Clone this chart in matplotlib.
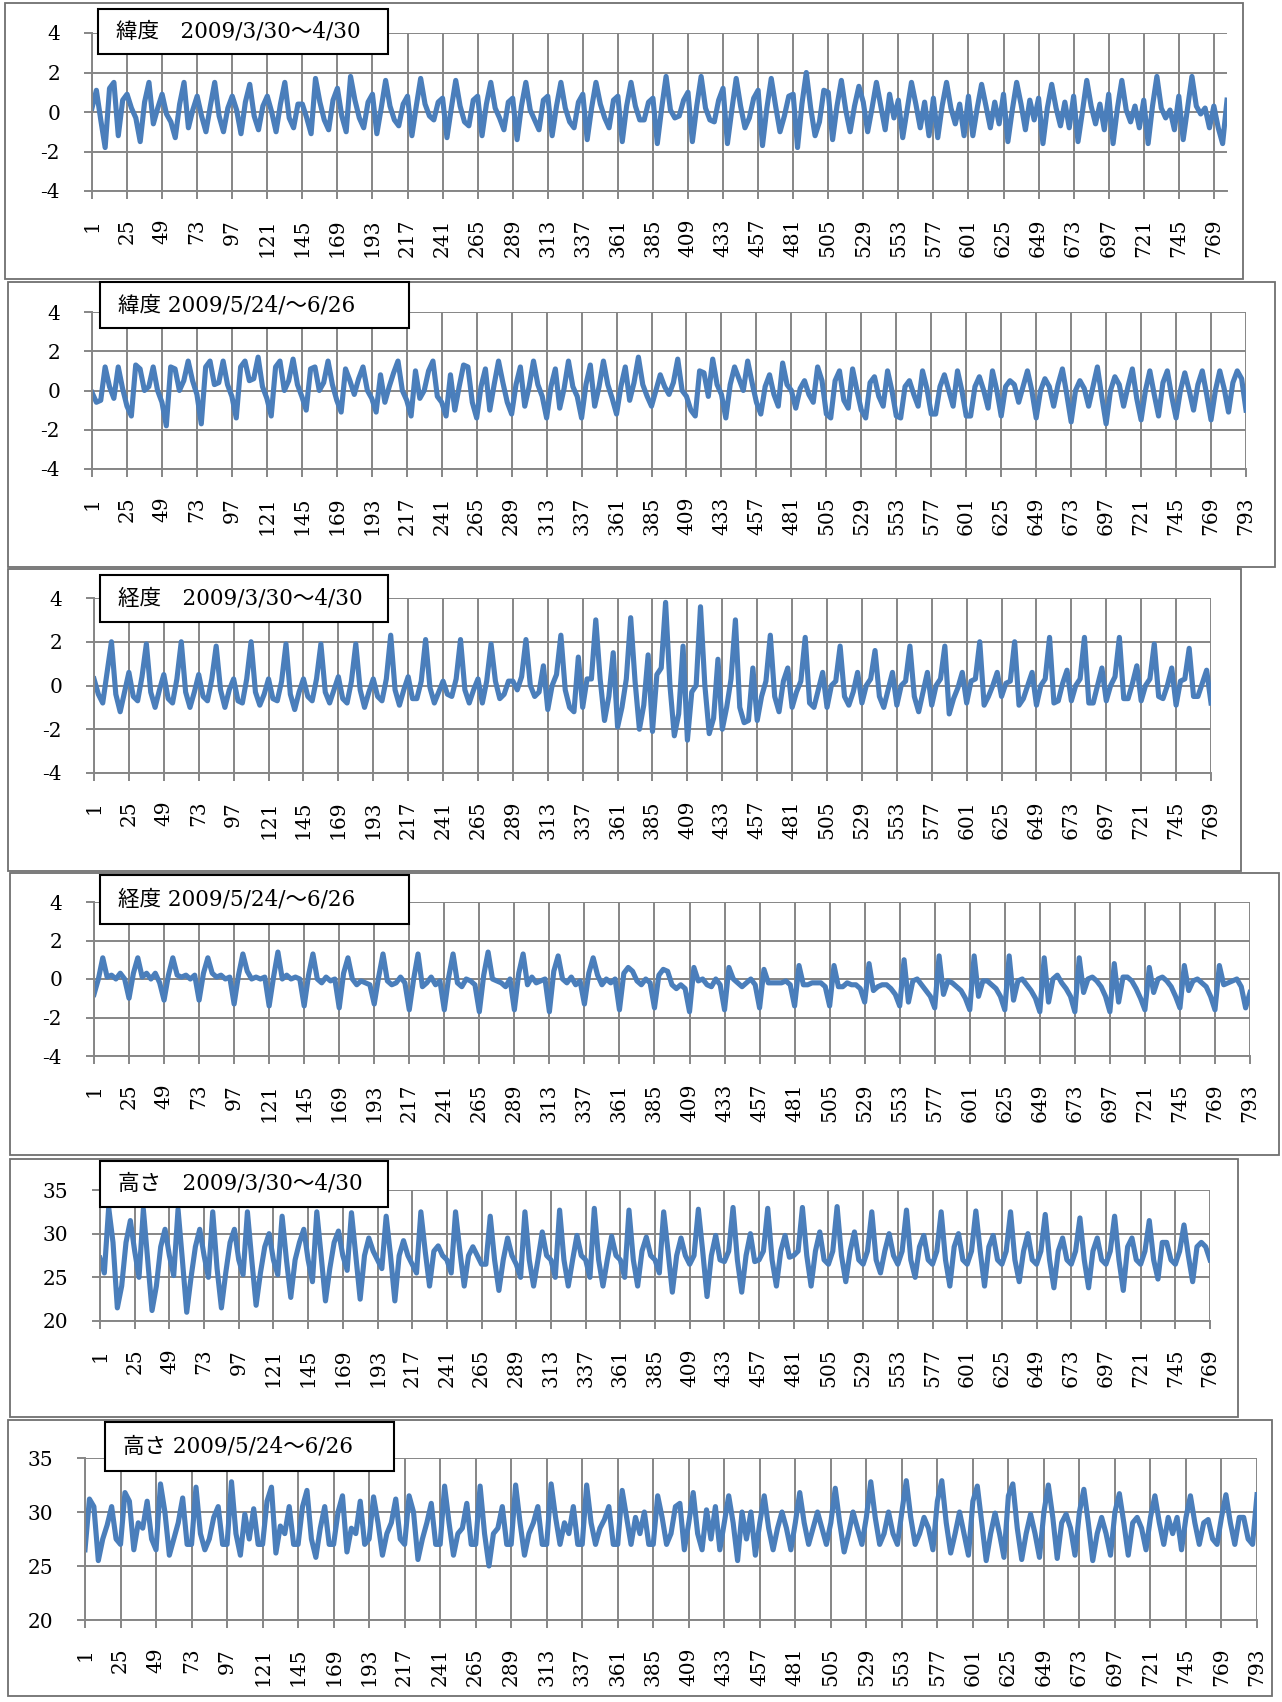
import matplotlib.pyplot as plt
import numpy as np
from matplotlib.patches import Rectangle

titles = [
    "緯度　2009/3/30～4/30",
    "緯度 2009/5/24/～6/26",
    "経度　2009/3/30～4/30",
    "経度 2009/5/24/～6/26",
    "高さ　2009/3/30～4/30",
    "高さ 2009/5/24～6/26",
]

lat_spring = [
    0.2, 1.1, -0.4, -1.8, 1.2, 1.5, -1.2, 0.6,
    0.9, 0.2, -0.3, -1.5, 0.5, 1.5, -0.6, 0.2,
    0.9, -0.1, -0.5, -1.3, 0.4, 1.5, -0.8, 0.1,
    0.8, -0.2, -1.0, 0.3, 1.5, -0.2, -1.0, 0.2,
    0.8, 0.1, -1.1, 0.5, 1.4, -0.2, -0.9, 0.3,
    0.8, 0.0, -1.0, 0.4, 1.5, -0.3, -0.8, 0.4,
    0.4, -0.3, -1.1, 1.7, 0.5, -0.4, -0.9, 0.6,
    1.2, -0.2, -1.0, 1.8, 0.6, -0.3, -0.8, 0.5,
    0.9, -1.1, 0.2, 1.6, 0.3, -0.4, -0.7, 0.4,
    0.8, -1.2, 0.3, 1.7, 0.4, -0.2, -0.4, 0.5,
    0.7, -1.3, 0.2, 1.6, 0.3, -0.5, -0.7, 0.6,
    0.8, -1.2, 0.4, 1.5, 0.2, -0.3, -0.9, 0.5,
    0.7, -1.4, 0.3, 1.5, 0.1, -0.4, -0.9, 0.6,
    0.8, -1.2, 0.3, 1.5, 0.2, -0.5, -0.8, 0.5,
    0.9, -1.4, 0.2, 1.5, 0.4, -0.3, -0.8, 0.6,
    0.8, -1.5, 0.3, 1.5, 0.3, -0.4, -0.4, 0.5,
    0.7, -1.6, 0.2, 1.8, 0.1, -0.3, -0.2, 0.6,
    1.0, -1.5, 0.3, 1.8, 0.2, -0.4, -0.5, 0.6,
    1.2, -1.6, 0.1, 1.7, 0.3, -0.8, -0.3, 0.7,
    1.1, -1.7, 0.2, 1.7, 0.3, -1.0, -0.2, 0.8,
    0.9, -1.8, 0.4, 2.0, 0.2, -1.2, -0.5, 1.1,
    1.0, -1.4, 0.3, 1.6, 0.1, -1.0, 0.3, 1.3,
    0.5, -1.0, 0.2, 1.5, 0.3, -0.9, 0.9, -0.3,
    0.6, -1.3, 0.1, 1.5, 0.4, -0.8, 0.5, -1.2,
    0.7, -1.3, 0.3, 1.5, 0.2, -0.6, 0.4, -1.2,
    0.8, -1.2, 0.2, 1.4, 0.3, -0.8, 0.5, -0.6,
    0.9, -1.5, 0.1, 1.5, 0.4, -0.9, 0.6, -0.4,
    0.7, -1.6, 0.2, 1.4, 0.2, -0.7, 0.5, -0.8,
    0.8, -1.5, 0.0, 1.6, 0.3, -0.6, 0.4, -0.9,
    0.9, -1.6, 0.2, 1.6, 0.1, -0.5, 0.3, -0.8,
    0.6, -1.6, 0.3, 1.8, 0.2, -0.3, 0.1, -0.9,
    0.8, -1.4, 0.2, 1.8, 0.3, -0.1, 0.2, -0.8,
    0.3, -0.8, -1.6, 0.6,
]

lat_summer = [
    -0.1, -0.6, -0.5, 1.2, 0.2, -0.4, 1.2, 0.1,
    -0.8, -1.3, 1.3, 1.1, 0.0, 0.2, 1.2, 0.0,
    -0.6, -1.8, 1.2, 1.1, 0.0, 0.5, 1.5, 0.5,
    -0.2, -1.7, 1.2, 1.5, 0.3, 0.4, 1.5, 0.3,
    -0.3, -1.4, 1.2, 1.5, 0.5, 0.6, 1.7, 0.2,
    -0.4, -1.3, 1.2, 1.5, 0.0, 0.5, 1.6, 0.3,
    -0.3, -1.0, 1.1, 1.2, 0.0, 0.4, 1.5, 0.3,
    -0.5, -1.1, 1.1, 0.5, -0.2, 0.6, 1.2, 0.0,
    -0.4, -1.1, 0.8, -0.6, 0.2, 0.9, 1.5, 0.0,
    -0.5, -1.3, 1.0, -0.4, 0.0, 1.0, 1.5, -0.3,
    -0.6, -1.3, 0.8, -1.0, 0.2, 1.3, 1.2, -0.6,
    -1.4, 0.2, 1.1, -1.0, 0.3, 1.5, 0.4, -0.6,
    -1.2, 0.3, 1.2, -0.8, 0.2, 1.5, 0.3, -0.3,
    -1.4, 0.2, 1.1, -0.9, 0.1, 1.5, 0.2, -0.3,
    -1.4, 0.3, 1.3, -0.8, 0.2, 1.5, 0.3, -0.4,
    -1.2, 0.2, 1.2, -0.5, 0.4, 1.7, 0.3, -0.3,
    -0.8, 0.0, 0.8, 0.2, -0.2, 0.4, 1.6, 0.0,
    -0.3, -1.0, -1.3, 1.0, 0.9, -0.3, 1.6, 0.3,
    -0.2, -1.4, 0.3, 1.2, 0.6, 0.0, 1.5, 0.4,
    -0.6, -1.2, 0.2, 0.8, -0.2, -0.8, 1.4, 0.3,
    0.0, -0.9, 0.1, 0.5, -0.2, -0.6, 1.2, 0.5,
    -1.2, -1.4, 0.5, 1.0, -0.5, -0.9, 1.1, 0.0,
    -1.0, -1.4, 0.4, 0.7, -0.3, -0.8, 1.0, 0.0,
    -1.3, -1.4, 0.2, 0.5, -0.2, -0.8, 1.0, 0.1,
    -1.2, -1.2, 0.2, 0.8, 0.0, -0.8, 1.0, 0.0,
    -1.3, -1.3, 0.2, 0.7, 0.0, -0.9, 1.0, 0.0,
    -1.3, 0.2, 0.5, 0.3, -0.6, 0.2, 1.0, 0.0,
    -1.4, 0.0, 0.6, 0.2, -0.8, 0.3, 1.1, -0.2,
    -1.6, 0.0, 0.5, 0.1, -0.8, 0.2, 1.2, -0.3,
    -1.7, 0.0, 0.7, 0.3, -0.8, 0.2, 1.1, -0.4,
    -1.5, 0.0, 1.0, -0.2, -1.3, 0.4, 1.0, -0.3,
    -1.4, 0.0, 0.9, 0.0, -1.0, 0.3, 1.0, -0.2,
    -1.5, 0.0, 1.0, 0.1, -1.1, 0.4, 1.0, 0.6,
    -1.0,
]

lon_spring = [
    0.3, -0.4, -0.8, 0.6, 2.0, -0.4, -1.2, -0.3,
    0.6, -0.5, -0.7, 0.4, 1.9, -0.3, -1.0, -0.2,
    0.5, -0.6, -0.8, 0.3, 2.0, -0.3, -1.0, -0.3,
    0.5, -0.5, -0.7, 0.3, 1.8, -0.2, -1.0, -0.2,
    0.3, -0.7, -0.8, 0.3, 2.0, -0.3, -0.9, -0.4,
    0.3, -0.6, -0.7, 0.2, 1.9, -0.4, -1.1, -0.3,
    0.3, -0.5, -0.7, 0.3, 1.9, -0.3, -0.8, -0.2,
    0.4, -0.6, -0.8, 0.2, 1.9, -0.2, -1.0, -0.3,
    0.3, -0.5, -0.7, 0.3, 2.3, -0.2, -0.9, -0.2,
    0.4, -0.6, -0.6, 0.2, 2.1, -0.1, -0.8, -0.3,
    0.2, -0.4, -0.5, 0.3, 2.1, -0.2, -0.8, -0.2,
    0.3, -0.8, 0.2, 1.9, 0.2, -0.6, -0.4, 0.2,
    0.2, -0.2, 0.4, 2.1, 0.0, -0.5, -0.3, 0.9,
    -1.1, 0.0, 0.5, 2.3, -0.2, -1.0, -1.2, 1.3,
    -1.0, 0.3, 0.3, 3.0, 0.3, -1.6, -0.5, 1.5,
    -1.9, -1.0, 0.3, 3.1, 0.2, -2.0, -0.9, 1.4,
    -2.1, 0.5, 0.8, 3.8, 0.0, -2.3, -1.3, 1.8,
    -2.5, -0.3, 0.0, 3.6, 0.0, -2.2, -1.5, 1.2,
    -2.0, -1.0, 0.3, 3.0, -1.0, -1.7, -1.6, 0.8,
    -1.6, -0.5, 0.2, 2.3, -0.5, -1.2, 0.2, 0.8,
    -1.0, -0.3, 0.2, 2.2, -0.8, -1.0, -0.2, 0.6,
    -1.0, 0.0, 0.2, 1.8, -0.5, -0.9, -0.3, 0.6,
    -0.8, 0.0, 0.3, 1.6, -0.5, -1.0, -0.2, 0.6,
    -0.9, 0.0, 0.2, 1.8, -0.5, -1.2, -0.3, 0.6,
    -0.9, 0.0, 0.3, 1.8, -1.3, -0.6, -0.1, 0.6,
    -0.8, 0.2, 0.3, 2.0, -0.9, -0.5, 0.0, 0.6,
    -0.5, 0.1, 0.2, 2.0, -0.9, -0.6, 0.0, 0.6,
    -0.9, 0.0, 0.3, 2.2, -0.8, -0.7, 0.1, 0.7,
    -0.7, 0.0, 0.3, 2.2, -0.8, -0.8, 0.0, 0.8,
    -0.7, 0.0, 0.4, 2.2, -0.6, -0.6, 0.1, 0.9,
    -0.7, 0.0, 0.3, 1.9, -0.5, -0.6, 0.0, 0.8,
    -0.9, 0.2, 0.3, 1.7, -0.5, -0.5, 0.1, 0.7,
    -0.8,
]

lon_summer = [
    -0.8, 0.0, 1.1, 0.1, 0.2, 0.0, 0.3, 0.0,
    -1.0, 0.3, 1.1, 0.1, 0.3, 0.0, 0.3, -0.2,
    -1.1, 0.2, 1.1, 0.2, 0.1, 0.2, 0.0, 0.2,
    -1.1, 0.3, 1.1, 0.3, 0.1, 0.2, 0.0, 0.1,
    -1.3, 0.2, 1.3, 0.4, 0.0, 0.1, 0.0, 0.1,
    -1.4, 0.1, 1.4, 0.0, 0.2, 0.0, 0.1, 0.0,
    -1.4, 0.2, 1.3, 0.0, -0.2, 0.1, -0.1, 0.0,
    -1.5, 0.3, 1.1, 0.0, -0.3, -0.1, -0.2, -0.3,
    -1.3, 0.1, 1.3, -0.1, -0.3, -0.2, 0.1, -0.2,
    -1.6, 0.0, 1.3, -0.4, -0.2, 0.1, -0.3, -0.1,
    -1.6, 0.1, 1.3, -0.2, -0.4, 0.0, -0.1, -0.3,
    -1.7, 0.2, 1.4, 0.0, -0.1, -0.2, -0.4, 0.0,
    -1.6, 0.3, 1.3, -0.3, 0.1, -0.2, -0.1, 0.0,
    -1.7, 0.4, 1.2, 0.0, -0.2, 0.1, -0.3, -0.1,
    -1.3, 0.3, 1.1, 0.2, -0.3, 0.0, -0.2, 0.0,
    -1.6, 0.3, 0.6, 0.4, -0.1, -0.3, 0.0, -0.2,
    -1.5, 0.2, 0.5, 0.4, -0.3, -0.5, -0.3, -0.5,
    -1.7, 0.6, -0.1, 0.0, -0.3, -0.4, 0.0, -0.3,
    -1.6, 0.6, 0.0, -0.2, -0.4, -0.2, 0.0, -0.3,
    -1.5, 0.5, -0.2, -0.2, -0.2, -0.2, -0.1, -0.3,
    -1.4, 0.7, -0.3, -0.3, -0.2, -0.2, -0.2, -0.4,
    -1.4, 0.7, -0.4, -0.4, -0.2, -0.3, -0.3, -0.5,
    -1.2, 0.8, -0.6, -0.4, -0.3, -0.3, -0.5, -0.8,
    -1.4, 1.0, -1.2, -0.1, 0.0, -0.3, -0.6, -0.9,
    -1.5, 1.2, -0.8, -0.1, -0.2, -0.4, -0.6, -1.0,
    -1.6, 1.2, -0.9, -0.1, -0.1, -0.3, -0.5, -0.9,
    -1.6, 1.2, -1.1, -0.1, 0.0, -0.3, -0.6, -1.0,
    -1.7, 1.1, -1.2, 0.0, 0.2, -0.2, -0.5, -0.9,
    -1.7, 1.1, -0.7, 0.0, 0.1, -0.1, -0.4, -0.9,
    -1.7, 0.8, -1.2, 0.1, 0.1, -0.1, -0.5, -1.0,
    -1.6, 0.6, -0.7, 0.0, 0.1, -0.1, -0.4, -0.9,
    -1.5, 0.7, -0.6, -0.1, 0.0, -0.2, -0.4, -0.9,
    -1.6, 0.7, -0.3, -0.2, -0.1, 0.0, -0.4, -1.5,
    -0.7,
]

height_spring = [
    27.2, 25.5, 33.0, 29.0, 21.5, 24.0, 29.0, 31.5,
    28.0, 25.0, 32.8, 27.0, 21.2, 24.0, 28.5, 30.5,
    27.5, 25.2, 32.8, 27.0, 21.0, 25.0, 28.5, 30.5,
    27.5, 25.0, 32.5, 26.0, 21.5, 25.5, 29.0, 30.5,
    27.0, 25.3, 32.5, 27.0, 21.8, 25.5, 28.5, 30.0,
    27.0, 25.3, 32.0, 27.0, 22.7, 27.0, 29.0, 30.5,
    27.0, 24.5, 32.5, 27.5, 22.3, 26.0, 29.0, 30.3,
    27.5, 25.8, 32.4, 27.5, 22.5, 27.5, 29.5, 28.0,
    27.0, 26.0, 32.0, 27.5, 22.3, 27.5, 29.2, 27.5,
    26.5, 25.5, 32.5, 28.0, 24.0, 28.0, 28.6, 27.5,
    27.0, 25.5, 32.5, 28.0, 24.0, 27.5, 28.5, 27.5,
    26.5, 26.5, 32.0, 27.0, 23.5, 27.0, 29.5, 27.5,
    26.5, 25.0, 32.5, 27.0, 24.0, 27.0, 30.2, 27.5,
    27.0, 25.0, 32.7, 27.0, 24.0, 27.0, 29.8, 27.5,
    27.0, 25.0, 32.9, 27.0, 24.0, 27.0, 29.7, 27.5,
    27.0, 25.0, 32.7, 27.0, 24.0, 28.0, 29.6, 27.5,
    27.0, 25.5, 32.5, 28.0, 23.3, 27.5, 29.5, 27.5,
    26.5, 27.5, 32.8, 28.0, 22.8, 27.5, 29.8, 27.0,
    26.8, 28.0, 33.0, 27.0, 23.3, 27.5, 30.0, 26.8,
    27.0, 28.0, 32.9, 27.0, 24.0, 28.0, 29.8, 27.3,
    27.5, 28.0, 33.0, 27.5, 24.0, 28.0, 30.2, 27.0,
    26.5, 28.0, 33.1, 27.5, 24.5, 28.0, 30.2, 27.0,
    26.5, 28.0, 32.5, 27.0, 25.5, 28.0, 30.0, 27.5,
    26.5, 28.0, 32.7, 27.0, 25.0, 28.5, 29.8, 27.0,
    26.5, 28.0, 32.5, 27.0, 24.0, 28.5, 30.0, 27.0,
    26.5, 28.0, 32.6, 28.0, 24.0, 28.5, 29.8, 27.0,
    26.5, 28.0, 32.5, 27.0, 24.5, 28.0, 30.0, 27.0,
    26.5, 28.0, 32.2, 27.0, 23.8, 28.0, 29.5, 27.0,
    26.5, 28.0, 31.8, 27.0, 23.8, 28.0, 29.5, 27.0,
    26.5, 28.0, 32.0, 27.0, 23.5, 28.5, 29.5, 27.0,
    26.5, 28.0, 31.5, 27.0, 24.8, 29.0, 29.0, 27.0,
    26.5, 28.0, 31.0, 27.5, 24.5, 28.5, 29.0, 28.5,
    27.0,
]

height_summer = [
    26.5, 31.2, 30.5, 25.5, 27.5, 28.8, 30.5, 27.5,
    27.0, 31.8, 31.0, 26.5, 29.0, 28.5, 31.0, 27.5,
    26.5, 32.6, 30.0, 26.0, 27.5, 29.0, 31.3, 27.0,
    27.0, 32.3, 28.0, 26.5, 27.5, 29.5, 30.5, 27.0,
    27.0, 32.8, 28.0, 26.0, 29.8, 27.5, 30.3, 27.0,
    27.0, 31.0, 32.3, 26.2, 28.7, 28.0, 30.5, 27.0,
    27.0, 30.5, 32.0, 27.5, 25.8, 28.5, 30.5, 27.0,
    27.0, 30.0, 31.5, 26.3, 28.5, 28.0, 31.0, 27.0,
    27.5, 31.4, 29.0, 26.0, 28.0, 29.0, 31.2, 27.5,
    27.0, 31.5, 30.0, 25.6, 27.5, 29.0, 30.8, 27.0,
    27.0, 32.4, 29.0, 26.0, 28.0, 28.5, 30.8, 27.0,
    27.0, 32.4, 28.0, 25.0, 28.0, 28.5, 30.5, 27.0,
    27.0, 32.5, 29.0, 26.0, 28.0, 29.0, 30.5, 27.0,
    27.0, 32.6, 29.5, 27.0, 29.0, 28.0, 30.5, 27.0,
    27.0, 32.5, 29.0, 27.0, 28.5, 29.3, 30.5, 27.0,
    27.0, 32.0, 29.5, 27.0, 29.5, 28.0, 30.0, 27.0,
    27.0, 31.5, 29.5, 27.0, 28.0, 30.5, 30.8, 26.5,
    29.0, 31.8, 28.0, 26.5, 30.2, 27.5, 30.5, 26.5,
    29.0, 31.5, 29.0, 25.5, 30.0, 27.5, 30.0, 26.0,
    29.0, 31.5, 28.5, 26.5, 28.5, 30.0, 28.5, 26.5,
    29.0, 31.8, 29.0, 27.0, 28.5, 30.0, 28.5, 27.0,
    29.0, 32.2, 29.0, 26.3, 28.0, 30.0, 28.5, 27.0,
    29.5, 32.8, 29.5, 27.0, 28.0, 30.0, 28.0, 27.0,
    30.0, 32.9, 29.5, 27.0, 28.0, 29.5, 28.5, 26.5,
    31.0, 32.9, 29.0, 26.2, 28.0, 30.0, 28.0, 26.0,
    31.0, 32.4, 29.0, 25.5, 28.0, 29.9, 28.0, 25.8,
    31.5, 32.6, 28.5, 25.6, 28.0, 29.8, 28.0, 25.8,
    30.0, 32.5, 29.5, 25.7, 29.0, 29.8, 28.5, 26.0,
    30.0, 32.1, 29.0, 25.5, 28.0, 29.5, 28.0, 26.0,
    30.0, 31.7, 29.0, 26.0, 29.0, 29.5, 28.5, 26.5,
    29.5, 31.5, 29.0, 27.0, 29.5, 28.0, 29.5, 26.5,
    29.5, 31.5, 29.0, 27.0, 29.0, 29.3, 27.5, 27.0,
    29.5, 31.6, 29.0, 27.0, 29.5, 29.5, 27.5, 27.0,
    31.6,
]

series = [lat_spring, lat_summer, lon_spring, lon_summer, height_spring, height_summer]
last_point = [778, 793, 769, 793, 769, 793]
y_ranges = [(-4, 4), (-4, 4), (-4, 4), (-4, 4), (20, 35), (20, 35)]
y_ticks = [[-4, -2, 0, 2, 4]] * 4 + [[20, 25, 30, 35]] * 2

W, H = 1282, 1702
BLUE = "#4a7ebb"
GRID = "#868686"
NUM_FONT = "DejaVu Serif"
TITLE_FONT = ["DejaVu Serif", "Noto Sans CJK JP"]

# pixel boxes (left, top, right, bottom): chart frame, plot area, title box
frames = [(5, 3, 1243, 279), (8, 282, 1275, 567), (8, 569, 1241, 871),
          (10, 873, 1279, 1155), (10, 1159, 1238, 1417), (8, 1420, 1272, 1696)]
plot_boxes = [(92, 33, 1227, 191), (92, 312, 1246, 469), (94, 598, 1211, 773),
              (94, 902, 1250, 1056), (100, 1190, 1210, 1321), (85, 1458, 1257, 1620)]
title_boxes = [(98, 9, 388, 54), (100, 282, 409, 328), (100, 575, 388, 622),
               (100, 875, 409, 924), (100, 1161, 388, 1207), (105, 1422, 394, 1471)]


def fig_rect(fig, box, **kw):
    l, t, r, b = box
    fig.patches.append(Rectangle((l / W, 1 - b / H), (r - l) / W, (b - t) / H,
                                 transform=fig.transFigure, figure=fig, **kw))


def main():
    plt.rcParams["axes.unicode_minus"] = False
    fig = plt.figure(figsize=(W / 100, H / 100), dpi=100)

    for i, vals in enumerate(series):
        fig_rect(fig, frames[i], fill=False, edgecolor="#6f6f6f", lw=1.3, zorder=0)

        l, t, r, b = plot_boxes[i]
        ax = fig.add_axes([l / W, 1 - b / H, (r - l) / W, (b - t) / H])
        x = 1 + 3 * np.arange(len(vals))
        ax.plot(x, vals, color=BLUE, lw=3.7, solid_joinstyle="round")

        n = last_point[i]
        ax.set_xlim(1, n)
        ax.set_ylim(*y_ranges[i])
        xt = np.arange(1, n + 1, 24)
        ax.set_xticks(xt)
        ax.set_xticklabels([str(v) for v in xt], rotation=90,
                           family=NUM_FONT, fontsize=14.5)
        ax.set_yticks(y_ticks[i])
        ax.set_yticklabels([str(v) for v in y_ticks[i]], family=NUM_FONT, fontsize=14.5)

        ax.grid(True, color=GRID, lw=1.4)
        ax.set_axisbelow(True)
        for s in ("top", "right"):
            ax.spines[s].set_visible(False)
        for s in ("left", "bottom"):
            ax.spines[s].set_color(GRID)
            ax.spines[s].set_linewidth(1.4)
        ax.tick_params(direction="out", length=6, width=1.4, color=GRID)
        ax.tick_params(axis="x", pad=14)
        ax.tick_params(axis="y", pad=17)

        fig_rect(fig, title_boxes[i], facecolor="white", edgecolor="black", lw=1.5, zorder=5)
        tl, tt, tr, tb = title_boxes[i]
        fig.text((tl + 18) / W, 1 - (tt + tb) / 2 / H, titles[i], family=TITLE_FONT,
                 fontsize=15.5, va="center", ha="left", zorder=6)

    fig.savefig("out.png", dpi=100)


if __name__ == "__main__":
    main()
